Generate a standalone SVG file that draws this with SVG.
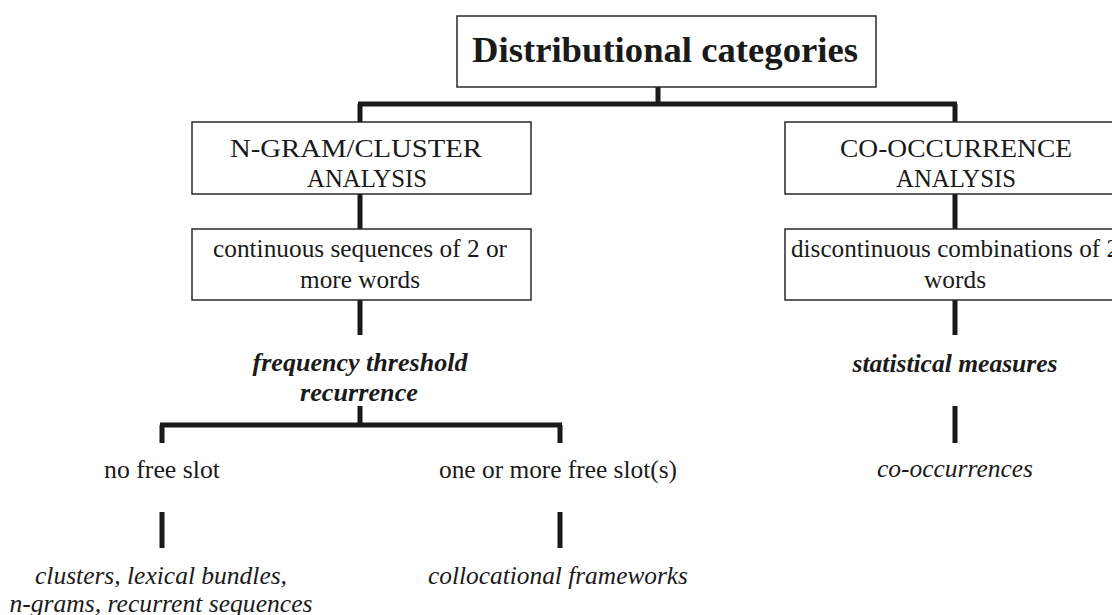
<svg xmlns="http://www.w3.org/2000/svg" width="1112" height="615" viewBox="0 0 1112 615">
<style>
.box{fill:#fff;stroke:#2a2a2a;stroke-width:1.5}
.ln{stroke:#1a1a1a;stroke-width:5;fill:none}
text{font-family:"Liberation Serif","Times New Roman",serif;fill:#1a1a1a;text-anchor:middle}
.t1{font-size:36px;font-weight:bold}
.t2{font-size:26px}
.t3{font-size:25px}
.bi{font-size:25px;font-weight:bold;font-style:italic}
.it{font-size:25px;font-style:italic}
</style>
<rect width="1112" height="615" fill="#fff"/>
<g id="connectors">
<path class="ln" d="M658 87V104M358 104H957M360 104V122M955 104V122"/>
<path class="ln" d="M360 194V229M955 194V229M360 300V335M955 300V335"/>
<path class="ln" d="M360 406V425M160 425H562M162 425V443M560 425V443"/>
<path class="ln" d="M162 512V548M560 512V548M955 406V443"/>
</g>
<g id="root">
<rect class="box" x="457" y="16" width="419" height="71"/>
<text class="t1" x="665" y="62" textLength="386" lengthAdjust="spacingAndGlyphs">Distributional categories</text>
</g>
<g id="ngram">
<rect class="box" x="192" y="122" width="339" height="72"/>
<text class="t2" x="356" y="157" textLength="252" lengthAdjust="spacingAndGlyphs">N-GRAM/CLUSTER</text>
<text class="t2" x="367" y="187" textLength="120" lengthAdjust="spacingAndGlyphs">ANALYSIS</text>
</g>
<g id="continuous">
<rect class="box" x="192" y="229" width="339" height="71"/>
<text class="t3" x="360" y="257" textLength="294" lengthAdjust="spacingAndGlyphs">continuous sequences of 2 or</text>
<text class="t3" x="360" y="288" textLength="120" lengthAdjust="spacingAndGlyphs">more words</text>
</g>
<g id="cooc">
<rect class="box" x="785" y="122" width="345" height="72"/>
<text class="t2" x="956" y="157" textLength="232" lengthAdjust="spacingAndGlyphs">CO-OCCURRENCE</text>
<text class="t2" x="956" y="187" textLength="120" lengthAdjust="spacingAndGlyphs">ANALYSIS</text>
</g>
<g id="discontinuous">
<rect class="box" x="785" y="229" width="345" height="71"/>
<text class="t3" x="955" y="257" textLength="328" lengthAdjust="spacingAndGlyphs">discontinuous combinations of 2</text>
<text class="t3" x="955" y="288" textLength="62" lengthAdjust="spacingAndGlyphs">words</text>
</g>
<g id="frequency">
<text class="bi" x="360" y="371" textLength="215" lengthAdjust="spacingAndGlyphs">frequency threshold</text>
<text class="bi" x="359" y="401" textLength="118" lengthAdjust="spacingAndGlyphs">recurrence</text>
</g>
<g id="statistical">
<text class="bi" x="955" y="372" textLength="205" lengthAdjust="spacingAndGlyphs">statistical measures</text>
</g>
<g id="nofree">
<text class="t3" x="162" y="478" textLength="116" lengthAdjust="spacingAndGlyphs">no free slot</text>
</g>
<g id="onemore">
<text class="t3" x="558" y="478" textLength="238" lengthAdjust="spacingAndGlyphs">one or more free slot(s)</text>
</g>
<g id="clusters">
<text class="it" x="161" y="584" textLength="252" lengthAdjust="spacingAndGlyphs">clusters, lexical bundles,</text>
<text class="it" x="161" y="612" textLength="303" lengthAdjust="spacingAndGlyphs">n-grams, recurrent sequences</text>
</g>
<g id="colloc">
<text class="it" x="558" y="584" textLength="260" lengthAdjust="spacingAndGlyphs">collocational frameworks</text>
</g>
<g id="cooccurrences">
<text class="it" x="955" y="477" textLength="156" lengthAdjust="spacingAndGlyphs">co-occurrences</text>
</g>
</svg>
